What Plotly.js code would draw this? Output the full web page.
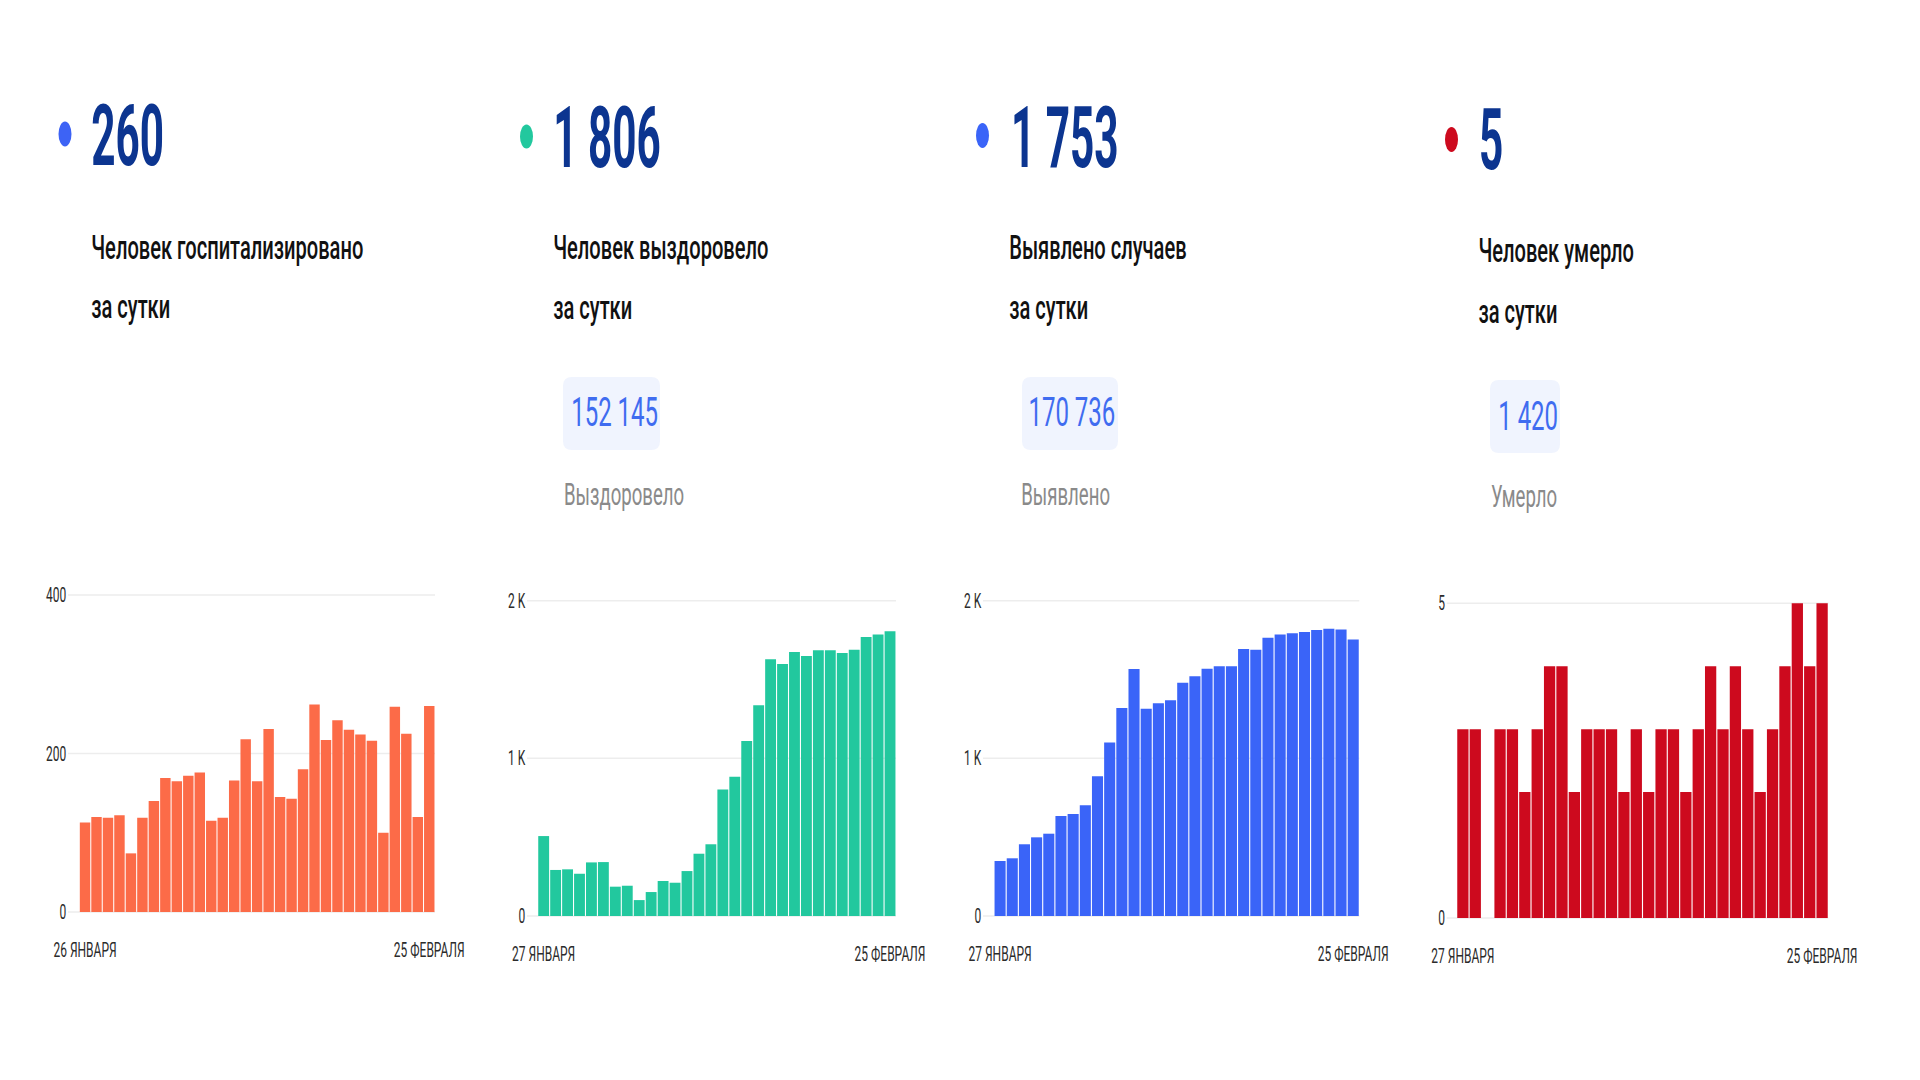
<!DOCTYPE html>
<html>
<head>
<meta charset="utf-8">
<script src="https://cdn.plot.ly/plotly-3.0.1.min.js"></script>
<style>
  html, body { margin: 0; padding: 0; background: #ffffff; overflow: hidden; width: 1920px; height: 1080px; }
  #wrap { position: absolute; left: 0; top: 0; transform-origin: 0 0; }
</style>
</head>
<body>
<div id="wrap"><div id="plot"></div></div>
<script>
// ---- data ----
const hospTicks = ['26 ЯНВАРЯ', '25 ФЕВРАЛЯ'];
const hospitalized = [113,120,119,122,74,119,140,169,165,172,176,115,119,166,218,165,231,145,143,180,262,217,242,230,224,216,100,259,225,120,260];

const recTicks = ['27 ЯНВАРЯ', '25 ФЕВРАЛЯ'];
const recovered = [507,292,296,268,340,342,186,192,101,152,222,211,285,395,455,803,884,1110,1336,1628,1598,1674,1649,1685,1685,1668,1689,1770,1786,1806];

const detTicks = ['27 ЯНВАРЯ', '25 ФЕВРАЛЯ'];
const detected = [349,366,455,499,522,634,647,702,886,1101,1319,1567,1315,1349,1368,1480,1520,1569,1584,1584,1693,1689,1765,1786,1793,1801,1814,1822,1818,1753];

const deathTicks = ['27 ЯНВАРЯ', '25 ФЕВРАЛЯ'];
const deaths = [3,3,0,3,3,2,3,4,4,2,3,3,3,2,3,2,3,3,2,3,4,3,4,3,2,3,4,5,4,5];

const headlineValues = ['260', '1 806', '1 753', '5'];
const headlineTitles = [['Человек госпитализировано', 'за сутки'], ['Человек выздоровело', 'за сутки'], ['Выявлено случаев', 'за сутки'], ['Человек умерло', 'за сутки']];
const totalValues = [null, '152 145', '170 736', '1 420'];
const totalLabels = [null, 'Выздоровело', 'Выявлено', 'Умерло'];

const yTickVals = [[0,200,400],[0,1000,2000],[0,1000,2000],[0,5]];
const yTickText = [['0','200','400'],['0','1 K','2 K'],['0','1 K','2 K'],['0','5']];

// ---- layout ----
const S = 0.6;               // horizontal condensing of the whole picture
const W = 1920 / S, H = 1080;
document.getElementById('wrap').style.width = W + 'px';
document.getElementById('wrap').style.transform = 'scaleX(' + S + ')';

const fx = p => p / 1920;
const fy = p => 1 - p / 1080;

const colors = ['#fc6b48', '#22c89e', '#3a64f8', '#cd0a1e'];
const dotColors = ['#3d63f5', '#22c89e', '#3a64f8', '#cd0a1e'];
const series = [hospitalized, recovered, detected, deaths];
const xticks = [hospTicks, recTicks, detTicks, deathTicks];

const panels = [
  {xd:[68,435],   xr:[-1.485,30.5], yd:[912,587.1], yr:[0,410]},
  {xd:[527,896],  xr:[-1.396,29.5], yd:[916,592.8], yr:[0,2050]},
  {xd:[983,1359.3], xr:[-1.403,29.5], yd:[916,592.8], yr:[0,2050]},
  {xd:[1446.7,1828.3], xr:[-1.307,29.5], yd:[918,597], yr:[0,5.1]}
];

const data = [];
const layout = {
  width: W, height: H,
  margin: {l:0, r:0, t:0, b:0},
  paper_bgcolor: '#ffffff', plot_bgcolor: 'rgba(0,0,0,0)',
  showlegend: false,
  bargap: 0.09,
  font: {family: 'Roboto, "Noto Sans", sans-serif', color: '#2b2b2b'},
  annotations: [], shapes: []
};

series.forEach((vals, k) => {
  const n = k + 1;
  const xa = n === 1 ? 'x' : 'x' + n;
  const ya = n === 1 ? 'y' : 'y' + n;
  data.push({
    type: 'bar', x: vals.map((v, i) => i), y: vals,
    xaxis: xa, yaxis: ya,
    marker: {color: colors[k], line: {width: 0}},
    hoverinfo: 'skip'
  });
  const p = panels[k];
  layout['xaxis' + (n === 1 ? '' : n)] = {
    domain: [fx(p.xd[0]), fx(p.xd[1])], range: p.xr, anchor: ya,
    showgrid: false, zeroline: false, showline: false, ticks: '',
    tickmode: 'array', tickvals: [0, vals.length - 1], ticktext: xticks[k],
    tickfont: {size: 20, color: '#2b2b2b', family: 'Roboto, sans-serif'},
    ticklabelstandoff: 24, fixedrange: true
  };
  layout['yaxis' + (n === 1 ? '' : n)] = {
    domain: [fy(p.yd[0]), fy(p.yd[1])], range: p.yr, anchor: xa,
    showgrid: true, gridcolor: '#ededed', gridwidth: 1.5,
    zeroline: true, zerolinecolor: '#ededed', zerolinewidth: 1.5,
    showline: false, ticks: '',
    tickmode: 'array', tickvals: yTickVals[k], ticktext: yTickText[k],
    tickfont: {size: 20, color: '#2b2b2b', family: 'Roboto, sans-serif'},
    ticklabelstandoff: 2, fixedrange: true
  };
});

// header geometry (pixels of the 1920x1080 picture)
const dots = [[65,134,13,25],[526.5,136.5,13,24],[982.5,135.5,13,25],[1451.5,139.5,13,25]];
const bigPos = [[90,136],[552,137.5],[1010,137.5],[1478,139]];
const titlePos = [[90,247.5,306],[552,247.5,307.5],[1008,247.5,307.5],[1477,250,311]];
const boxes = [null,[563,377,660,450],[1022,377,1118,450],[1490,380,1560,453]];
const totalPos = [null,[570,412.5],[1027,412.5],[1497,416]];
const labelPos = [null,[563,494.5],[1020,494.5],[1490,496.5]];

function roundRect(x0, y0, x1, y1, r) {
  const X = v => fx(v).toFixed(6), Y = v => fy(v).toFixed(6);
  return 'M' + X(x0 + r) + ',' + Y(y0) +
    ' L' + X(x1 - r) + ',' + Y(y0) + ' Q' + X(x1) + ',' + Y(y0) + ' ' + X(x1) + ',' + Y(y0 + r) +
    ' L' + X(x1) + ',' + Y(y1 - r) + ' Q' + X(x1) + ',' + Y(y1) + ' ' + X(x1 - r) + ',' + Y(y1) +
    ' L' + X(x0 + r) + ',' + Y(y1) + ' Q' + X(x0) + ',' + Y(y1) + ' ' + X(x0) + ',' + Y(y1 - r) +
    ' L' + X(x0) + ',' + Y(y0 + r) + ' Q' + X(x0) + ',' + Y(y0) + ' ' + X(x0 + r) + ',' + Y(y0) + ' Z';
}

for (let k = 0; k < 4; k++) {
  const d = dots[k];
  layout.shapes.push({type: 'circle', xref: 'paper', yref: 'paper',
    x0: fx(d[0] - d[2]/2), x1: fx(d[0] + d[2]/2), y0: fy(d[1] + d[3]/2), y1: fy(d[1] - d[3]/2),
    fillcolor: dotColors[k], line: {width: 0}});
  layout.annotations.push({xref: 'paper', yref: 'paper', x: fx(bigPos[k][0]), y: fy(bigPos[k][1]),
    xanchor: 'left', yanchor: 'middle', showarrow: false, text: headlineValues[k],
    name: 'big',
    font: {family: 'Roboto, sans-serif', size: 86, color: '#0c3590', weight: 700}});
  const t = titlePos[k];
  layout.annotations.push({xref: 'paper', yref: 'paper', x: fx(t[0]), y: fy(t[1]),
    xanchor: 'left', yanchor: 'middle', showarrow: false, text: headlineTitles[k][0],
    font: {family: 'Roboto, sans-serif', size: 33.5, color: '#111111', weight: 500}});
  layout.annotations.push({xref: 'paper', yref: 'paper', x: fx(t[0]), y: fy(t[2]),
    xanchor: 'left', yanchor: 'middle', showarrow: false, text: headlineTitles[k][1],
    font: {family: 'Roboto, sans-serif', size: 33.5, color: '#111111', weight: 500}});
  if (boxes[k]) {
    const b = boxes[k];
    layout.shapes.push({type: 'path', xref: 'paper', yref: 'paper', path: roundRect(b[0], b[1], b[2], b[3], 9),
      fillcolor: '#f0f4fe', line: {width: 0}, layer: 'below'});
    layout.annotations.push({xref: 'paper', yref: 'paper', x: fx(totalPos[k][0]), y: fy(totalPos[k][1]),
      xanchor: 'left', yanchor: 'middle', showarrow: false, text: totalValues[k],
      font: {family: 'Roboto, sans-serif', size: 40, color: '#3f6cf0'}});
    layout.annotations.push({xref: 'paper', yref: 'paper', x: fx(labelPos[k][0]), y: fy(labelPos[k][1]),
      xanchor: 'left', yanchor: 'middle', showarrow: false, text: totalLabels[k],
      font: {family: 'Roboto, sans-serif', size: 31, color: '#8a8a8a'}});
  }
}

Plotly.newPlot('plot', data, layout, {staticPlot: true, displayModeBar: false}).then(gd => {
  // the headline figures are set in a more condensed face than the rest
  const F = 0.82;
  gd.querySelectorAll('.annotation-text').forEach(el => {
    if (headlineValues.indexOf(el.textContent) < 0) return;
    const bb = el.getBBox();
    const x0 = bb.x;
    el.setAttribute('transform', 'translate(' + x0 + ',0) scale(' + F + ',1) translate(' + (-x0) + ',0)');
  });
});
</script>
</body>
</html>
